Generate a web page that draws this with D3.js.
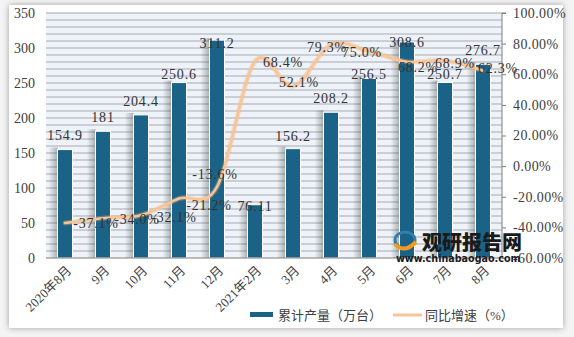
<!DOCTYPE html>
<html><head><meta charset="utf-8">
<script src="https://cdn.jsdelivr.net/npm/d3@7/dist/d3.min.js"></script>
<style>
html,body{margin:0;padding:0;background:#fff;}
svg{display:block;}
text{font-family:"Liberation Serif","Noto Sans CJK SC",serif;}
</style></head>
<body>
<svg id="chart" width="574" height="337"></svg>
<script>
// ---- data ----
const categories = ["2020年8月","9月","10月","11月","12月","2021年2月","3月","4月","5月","6月","7月","8月"];
const output = [154.9, 181, 204.4, 250.6, 311.2, 76.11, 156.2, 208.2, 256.5, 308.6, 250.7, 276.7];
const outputLabels = ["154.9","181","204.4","250.6","311.2","76.11","156.2","208.2","256.5","308.6","250.7","276.7"];
const growth = [-37.1, -34.0, -32.1, -21.2, -13.6, 68.4, 52.1, 79.3, 75.0, 68.2, 68.9, 62.3];
const growthLabels = ["-37.1%","-34.0%","-32.1%","-21.2%","-13.6%","68.4%","52.1%","79.3%","75.0%","68.2%","68.9%","62.3%"];
const leftTicks = [0, 50, 100, 150, 200, 250, 300, 350];
const rightTicks = [-60, -40, -20, 0, 20, 40, 60, 80, 100];
const seriesNames = ["累计产量（万台）", "同比增速（%）"];

// label placement offsets (layout, not data)
const barLabelDy = [-14, -14, -14, -8, 3, 1, -13, -14, -4, 0, -8, -14];
const lineLabelDx = [31, 34, 33, 30, -2, 28, 6, -4, -7, 11, 10, 15];
const lineLabelDy = [0, 1, 2, 7, -13, 1, -4, 2, 1, 5, 2, -3];

const svg = d3.select("#chart");
const defs = svg.append("defs");

// card shadow
const f = defs.append("filter").attr("id","sh").attr("x","-5%").attr("y","-5%").attr("width","110%").attr("height","110%");
f.append("feGaussianBlur").attr("in","SourceAlpha").attr("stdDeviation",3);
f.append("feOffset").attr("dx",0).attr("dy",0).attr("result","b");
f.append("feFlood").attr("flood-color","#000").attr("flood-opacity",0.35);
f.append("feComposite").attr("in2","b").attr("operator","in");
const fm = f.append("feMerge"); fm.append("feMergeNode"); fm.append("feMergeNode").attr("in","SourceGraphic");

const bg = defs.append("linearGradient").attr("id","barsh").attr("x1","0").attr("x2","1");
bg.append("stop").attr("offset","0").attr("stop-color","#000").attr("stop-opacity",0);
bg.append("stop").attr("offset","1").attr("stop-color","#000").attr("stop-opacity",0.28);

svg.append("rect").attr("width",574).attr("height",337).attr("fill","#f4f4f4");
svg.append("rect").attr("x",9).attr("y",5).attr("width",554).attr("height",323).attr("fill","#fff").attr("filter","url(#sh)");

const L = 46, R = 502, T = 13, B = 258;
const x = d3.scaleBand().domain(categories).range([L, R]);
const yL = d3.scaleLinear().domain([0, 350]).range([B, T]);
const yR = d3.scaleLinear().domain([-60, 100]).range([B, T]);

// plot background
svg.append("rect").attr("x",L).attr("y",T).attr("width",R-L).attr("height",B-T).attr("fill","#edf3f9");
// grid lines every 10 units
svg.append("g").selectAll("line").data(d3.range(10, 351, 10)).join("line")
  .attr("x1",L).attr("x2",R).attr("y1",d=>yL(d)).attr("y2",d=>yL(d))
  .attr("stroke","#bfc3c8").attr("stroke-width",1.4);

// bars
const bw = 15;
const cx = c => x(c) + x.bandwidth()/2;
svg.append("g").selectAll("rect").data(output).join("rect")
  .attr("x",(d,i)=>cx(categories[i]) - bw/2 - 9).attr("y",d=>yL(d)-2)
  .attr("width",9).attr("height",d=>B-yL(d)+2).attr("fill","url(#barsh)");
svg.append("g").selectAll("rect").data(output).join("rect")
  .attr("x",(d,i)=>cx(categories[i]) - bw/2).attr("y",d=>yL(d))
  .attr("width",bw).attr("height",d=>B-yL(d))
  .attr("fill","#1a6386").attr("stroke","#fff").attr("stroke-width",1);

// x axis line
svg.append("line").attr("x1",L).attr("x2",R).attr("y1",B).attr("y2",B).attr("stroke","#7f7f7f").attr("stroke-width",1.2);

// right axis
const ra = svg.append("g").attr("transform",`translate(${R},0)`)
  .call(d3.axisRight(yR).tickValues(rightTicks).tickSize(4).tickPadding(7).tickFormat(d=>d.toFixed(2)+"%"));
ra.select(".domain").attr("stroke","#7f7f7f").attr("d",`M4,${T}H0V${B}H4`);
ra.selectAll(".tick line").attr("stroke","#7f7f7f");
ra.selectAll("text").attr("fill","#404040").style("font-size","14px").style("font-family","Liberation Serif, serif").style("letter-spacing","0.4px");

// left axis
const la = svg.append("g").attr("transform",`translate(${L},0)`)
  .call(d3.axisLeft(yL).tickValues(leftTicks).tickSize(0).tickPadding(11));
la.select(".domain").remove();
la.selectAll("text").attr("fill","#404040").style("font-size","14px").style("font-family","Liberation Serif, serif");

// x labels
svg.append("g").selectAll("text").data(categories).join("text")
  .attr("transform",c=>`translate(${cx(c)+4},${B+10}) rotate(-45)`)
  .attr("text-anchor","end").attr("dy","0.35em")
  .attr("fill","#404040").style("font-size","13px").text(c=>c);

// watermark
const wm = svg.append("g");
wm.append("ellipse").attr("cx",405).attr("cy",240).attr("rx",10).attr("ry",8).attr("fill","none").attr("stroke","#2f7fb0").attr("stroke-width",3);
wm.append("path").attr("d","M395,244 Q404,254 416,242").attr("fill","none").attr("stroke","#f39a1e").attr("stroke-width",4);
wm.append("text").attr("x",422).attr("y",250).attr("fill","#1a1a1a").style("font-family","Noto Sans CJK SC").style("font-weight","900").style("font-size","20px").text("观研报告网");
wm.append("text").attr("x",396).attr("y",262).attr("fill","#1a1a1a").style("font-family","DejaVu Sans").style("font-weight","bold").style("font-size","9.6px").text("www.chinabaogao.com");

// line
const line = d3.line().x((d,i)=>cx(categories[i])).y(d=>yR(d)).curve(d3.curveCardinal.tension(0));
svg.append("path").datum(growth).attr("d",line).attr("fill","none")
  .attr("stroke","#f7b27a").attr("stroke-opacity",0.35).attr("stroke-width",5).attr("stroke-linecap","round");
svg.append("path").datum(growth).attr("d",line).attr("fill","none")
  .attr("stroke","#f9c596").attr("stroke-width",2.6).attr("stroke-linecap","round");

// bar labels
svg.append("g").selectAll("text").data(output).join("text")
  .attr("x",(d,i)=>cx(categories[i])).attr("y",(d,i)=>yL(d)+barLabelDy[i])
  .attr("text-anchor","middle").attr("dy","0.35em").attr("fill","#333")
  .style("font-size","14px").style("letter-spacing","0.8px").text((d,i)=>outputLabels[i]);

// line labels
svg.append("g").selectAll("text").data(growth).join("text")
  .attr("x",(d,i)=>cx(categories[i])+lineLabelDx[i]).attr("y",(d,i)=>yR(d)+lineLabelDy[i])
  .attr("text-anchor","middle").attr("dy","0.35em").attr("fill","#333")
  .style("font-size","14px").style("letter-spacing","0.8px").text((d,i)=>growthLabels[i]);

// legend
const lg = svg.append("g");
lg.append("rect").attr("x",250).attr("y",312).attr("width",23).attr("height",5).attr("fill","#1a6386");
lg.append("text").attr("x",278).attr("y",315).attr("dy","0.35em").attr("fill","#404040").style("font-size","13px").text(seriesNames[0]);
lg.append("line").attr("x1",393).attr("x2",422).attr("y1",315).attr("y2",315).attr("stroke","#f9c596").attr("stroke-width",3);
lg.append("text").attr("x",425).attr("y",315).attr("dy","0.35em").attr("fill","#404040").style("font-size","13px").text(seriesNames[1]);
</script>
</body></html>
